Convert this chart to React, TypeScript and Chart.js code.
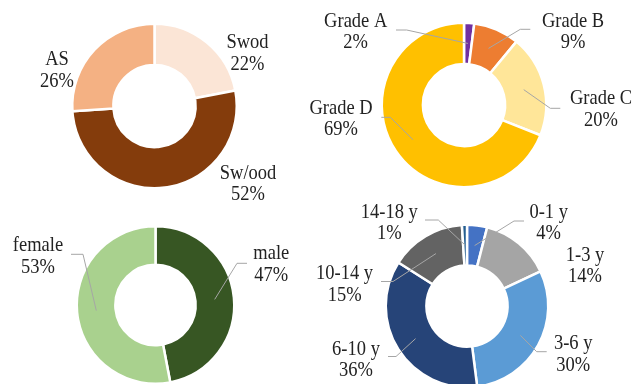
import React, { useEffect, useRef } from 'react';
import { Chart, registerables } from 'chart.js';

Chart.register(...registerables);

// ---- data ----
const woodTypes = ['Swod', 'Sw/ood', 'AS'];
const woodShares = [22, 52, 26];

const grades = ['Grade A', 'Grade B', 'Grade C', 'Grade D'];
const gradeShares = [2, 9, 20, 69];

const sexes = ['male', 'female'];
const sexShares = [47, 53];

const ageGroups = ['0-1 y', '1-3 y', '3-6 y', '6-10 y', '10-14 y', '14-18 y'];
const ageShares = [4, 14, 30, 36, 15, 1];

// ---- styling ----
const woodColors = ['#FBE5D6', '#843C0C', '#F4B183'];
const gradeColors = ['#7030A0', '#ED7D31', '#FFE699', '#FFC000'];
const sexColors = ['#375623', '#A9D18E'];
const ageColors = ['#4472C4', '#A5A5A5', '#5B9BD5', '#264478', '#636363', '#255E91'];

const PAGE_W = 634;
const PAGE_H = 384;
const CANVAS_H = 420;
const FONT_PX = 18.5;
const LINE_GAP = 21.5;
const STRETCH_Y = 1.13;
const BORDER = 2.5;
const TEXT_COLOR = '#222222';
const LEADER_COLOR = '#A6A6A6';

type LabelSpot = { x: number; y: number; elbow?: [number, number]; end?: [number, number] };

type Donut = {
  labels: string[];
  values: number[];
  colors: string[];
  cx: number;
  cy: number;
  r: number;
  cutout: string;
  spots: LabelSpot[];
};

const donuts: Donut[] = [
  {
    labels: woodTypes,
    values: woodShares,
    colors: woodColors,
    cx: 154.5,
    cy: 106,
    r: 81,
    cutout: '50%',
    spots: [
      { x: 247.5, y: 59.2 },
      { x: 248, y: 189.5 },
      { x: 57, y: 76.2 },
    ],
  },
  {
    labels: grades,
    values: gradeShares,
    colors: gradeColors,
    cx: 464,
    cy: 105,
    r: 81,
    cutout: '50%',
    spots: [
      { x: 355.7, y: 37.5, elbow: [406.7, 30], end: [396, 30] },
      { x: 573, y: 37.5, elbow: [520.3, 29.3], end: [530.3, 29.3] },
      { x: 601, y: 115, elbow: [550.3, 108.3], end: [560.3, 108.3] },
      { x: 341, y: 124.7, elbow: [390.3, 117.3], end: [381.3, 117.3] },
    ],
  },
  {
    labels: sexes,
    values: sexShares,
    colors: sexColors,
    cx: 155.5,
    cy: 305,
    r: 77.5,
    cutout: '51%',
    spots: [
      { x: 271.3, y: 270, elbow: [237, 263.3], end: [247, 263.3] },
      { x: 38, y: 262.2, elbow: [83, 254.3], end: [71, 254.3] },
    ],
  },
  {
    labels: ageGroups,
    values: ageShares,
    colors: ageColors,
    cx: 467,
    cy: 306,
    r: 80,
    cutout: '50%',
    spots: [
      { x: 548.7, y: 228.3, elbow: [514, 221], end: [524, 221] },
      { x: 585, y: 271.5 },
      { x: 573.2, y: 360, elbow: [536.7, 351.7], end: [546.7, 351.7] },
      { x: 356, y: 365.3, elbow: [396, 356.5], end: [388, 356.5] },
      { x: 344.6, y: 289.8, elbow: [393, 281.5], end: [381, 281.5] },
      { x: 389.3, y: 228.3, elbow: [438.3, 220], end: [425, 220] },
    ],
  },
];

// Draws leader lines and two-line "name / percent" labels for each slice.
function sliceLabels(d: Donut) {
  return {
    id: 'sliceLabels',
    afterDatasetsDraw(chart: Chart) {
      const ctx = chart.ctx;
      const arcs = chart.getDatasetMeta(0).data as any[];
      ctx.save();
      ctx.strokeStyle = LEADER_COLOR;
      ctx.lineWidth = 1;
      arcs.forEach((arc, i) => {
        const spot = d.spots[i];
        if (!spot || !spot.elbow || !spot.end) return;
        const p = arc.tooltipPosition(true);
        ctx.beginPath();
        ctx.moveTo(p.x, p.y);
        ctx.lineTo(spot.elbow[0], spot.elbow[1]);
        ctx.lineTo(spot.end[0], spot.end[1]);
        ctx.stroke();
      });

      ctx.fillStyle = TEXT_COLOR;
      ctx.font = `${FONT_PX}px "Liberation Serif", "Times New Roman", serif`;
      ctx.textAlign = 'center';
      ctx.textBaseline = 'alphabetic';
      d.labels.forEach((name, i) => {
        const spot = d.spots[i];
        const lines = [name, `${d.values[i]}%`];
        lines.forEach((line, k) => {
          const baseline = spot.y + (k - 0.5) * LINE_GAP;
          ctx.save();
          ctx.translate(spot.x, baseline);
          ctx.scale(1, STRETCH_Y);
          ctx.fillText(line, 0, 0);
          ctx.restore();
        });
      });
      ctx.restore();
    },
  };
}

function DonutCanvas({ donut }: { donut: Donut }) {
  const ref = useRef<HTMLCanvasElement | null>(null);

  useEffect(() => {
    if (!ref.current) return;
    const size = 2 * donut.r + 2 * BORDER;
    const left = donut.cx - size / 2;
    const top = donut.cy - size / 2;
    const chart = new Chart(ref.current, {
      type: 'doughnut',
      data: {
        labels: donut.labels,
        datasets: [
          {
            data: donut.values,
            backgroundColor: donut.colors,
            borderColor: '#ffffff',
            borderWidth: BORDER,
            hoverBorderWidth: BORDER,
            hoverOffset: 0,
            offset: 0,
          },
        ],
      },
      options: {
        responsive: false,
        animation: false,
        events: [],
        cutout: donut.cutout,
        rotation: 0,
        layout: {
          padding: {
            left,
            top,
            right: PAGE_W - left - size,
            bottom: CANVAS_H - top - size,
          },
        },
        plugins: {
          legend: { display: false },
          tooltip: { enabled: false },
        },
      },
      plugins: [sliceLabels(donut)],
    } as any);
    return () => chart.destroy();
  }, [donut]);

  return (
    <canvas
      ref={ref}
      width={PAGE_W}
      height={CANVAS_H}
      style={{ position: 'absolute', left: 0, top: 0, display: 'block' }}
    />
  );
}

export default function App() {
  return (
    <div
      style={{
        position: 'absolute',
        left: 0,
        top: 0,
        width: PAGE_W,
        height: PAGE_H,
        overflow: 'hidden',
        background: '#ffffff',
      }}
    >
      {donuts.map((d, i) => (
        <DonutCanvas key={i} donut={d} />
      ))}
    </div>
  );
}
